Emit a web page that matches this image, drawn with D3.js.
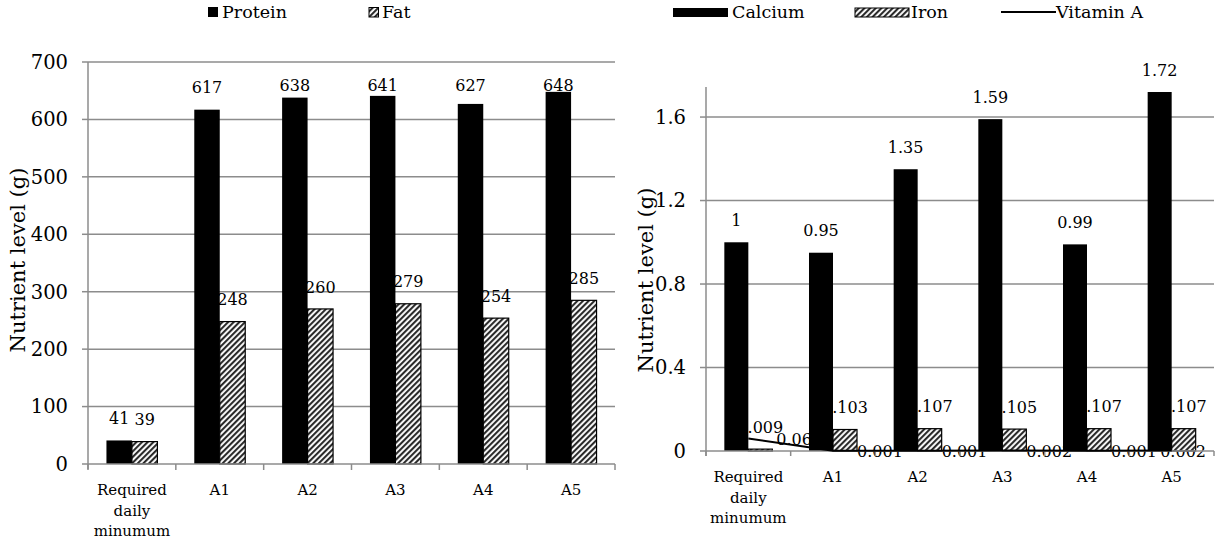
<!DOCTYPE html>
<html>
<head>
<meta charset="utf-8">
<script src="https://cdnjs.cloudflare.com/ajax/libs/d3/7.8.5/d3.min.js"></script>
<style>
  body { margin: 0; background: #fff; }
  svg { display: block; font-family: "DejaVu Serif", "Liberation Serif", serif; }
</style>
</head>
<body>
<svg id="chart" width="1220" height="546"></svg>
<script>
// ---------- datos ----------
const categories = ["Required daily minumum", "A1", "A2", "A3", "A4", "A5"];

const protein = [41, 617, 638, 641, 627, 648];
const fat = [39, 248, 270, 279, 254, 285];
const fatLabels = ["39", "248", "260", "279", "254", "285"];

const calcium = [1, 0.95, 1.35, 1.59, 0.99, 1.72];
const iron = [0.009, 0.103, 0.107, 0.105, 0.107, 0.107];
const vitaminA = [0.06, 0.001, 0.001, 0.002, 0.001, 0.002];

const leftTicks = [0, 100, 200, 300, 400, 500, 600, 700];
const rightTicks = [0, 0.4, 0.8, 1.2, 1.6];

// ---------- estilo ----------
const GRID = "#8c8c8c";
const INK = "#000";
const FS_TICK = 19.5, FS_LAB = 16, FS_CAT = 15, FS_LEG = 17.5, FS_TITLE = 21;

const svg = d3.select("#chart");

const defs = svg.append("defs");
const pat = defs.append("pattern")
  .attr("id", "hatch")
  .attr("patternUnits", "userSpaceOnUse")
  .attr("width", 4).attr("height", 4)
  .attr("patternTransform", "rotate(45)");
pat.append("rect").attr("width", 4).attr("height", 4).attr("fill", "#fff");
pat.append("line")
  .attr("x1", 1).attr("y1", 0).attr("x2", 1).attr("y2", 4)
  .attr("stroke", "#2a2a2a").attr("stroke-width", 2.2);

// ---------- helpers ----------
function catAxis(g, x, y0, tickLen) {
  const step = x.step();
  const r = x.range();
  g.append("line")
    .attr("x1", r[0]).attr("x2", r[1])
    .attr("y1", y0).attr("y2", y0)
    .attr("stroke", GRID).attr("stroke-width", 1.5);
  d3.range(categories.length + 1).forEach(i => {
    const xx = r[0] + i * step;
    g.append("line")
      .attr("x1", xx).attr("x2", xx)
      .attr("y1", y0).attr("y2", y0 + tickLen)
      .attr("stroke", GRID).attr("stroke-width", 1.5);
  });
}

function catLabels(g, x, yTop) {
  categories.forEach(c => {
    const words = c.split(" ");
    const t = g.append("text")
      .attr("text-anchor", "middle")
      .attr("font-size", FS_CAT)
      .attr("fill", INK);
    words.forEach((w, i) => {
      t.append("tspan")
        .attr("x", x(c) + x.bandwidth() / 2)
        .attr("y", yTop + i * 20.5)
        .text(w);
    });
  });
}

function valAxis(g, y, ticks, x0, x1, fmt) {
  ticks.forEach(t => {
    if (t > 0)
      g.append("line")
        .attr("x1", x0).attr("x2", x1)
        .attr("y1", y(t)).attr("y2", y(t))
        .attr("stroke", GRID).attr("stroke-width", 1.5);
    g.append("line")
      .attr("x1", x0 - 6).attr("x2", x0)
      .attr("y1", y(t)).attr("y2", y(t))
      .attr("stroke", GRID).attr("stroke-width", 1.5);
    g.append("text")
      .attr("x", x0 - 20).attr("y", y(t))
      .attr("dy", "0.35em")
      .attr("text-anchor", "end")
      .attr("font-size", FS_TICK)
      .text(fmt(t));
  });
  g.append("line")
    .attr("x1", x0).attr("x2", x0)
    .attr("y1", y.range()[1]).attr("y2", y.range()[0] + 5)
    .attr("stroke", GRID).attr("stroke-width", 1.5);
}

function yTitle(g, cx, cy) {
  g.append("text")
    .attr("transform", `translate(${cx},${cy}) rotate(-90)`)
    .attr("text-anchor", "middle")
    .attr("dy", "0.35em")
    .attr("font-size", FS_TITLE)
    .text("Nutrient level (g)");
}

// =================================================
// Izquierda: proteína / grasa
// =================================================
const L = svg.append("g");
const xL = d3.scaleBand().domain(categories).range([88, 615])
  .paddingInner(0.42).paddingOuter(0.21);
const subL = d3.scaleBand().domain(["p", "f"]).range([0, xL.bandwidth()]);
const yL = d3.scaleLinear().domain([0, 700]).range([464, 62]);

valAxis(L, yL, leftTicks, 88, 615, d => d);
yTitle(L, 18, 260);

// etiquetas de grasa primero (las barras negras las tapan un poco)
L.append("g").selectAll("text").data(categories).join("text")
  .attr("x", (c) => xL(c) + subL("f") + subL.bandwidth() / 2)
  .attr("y", (c, i) => yL(fat[i]) - 22)
  .attr("dy", "0.35em")
  .attr("text-anchor", "middle")
  .attr("font-size", FS_LAB)
  .text((c, i) => fatLabels[i]);

L.append("g").selectAll("rect").data(categories).join("rect")
  .attr("x", c => xL(c) + subL("f"))
  .attr("y", (c, i) => yL(fat[i]))
  .attr("width", subL.bandwidth())
  .attr("height", (c, i) => yL(0) - yL(fat[i]))
  .attr("fill", "url(#hatch)")
  .attr("stroke", INK).attr("stroke-width", 1.2);

L.append("g").selectAll("rect").data(categories).join("rect")
  .attr("x", c => xL(c))
  .attr("y", (c, i) => yL(protein[i]))
  .attr("width", subL.bandwidth())
  .attr("height", (c, i) => yL(0) - yL(protein[i]))
  .attr("fill", INK);

L.append("g").selectAll("text").data(categories).join("text")
  .attr("x", c => xL(c) + subL.bandwidth() / 2)
  .attr("y", (c, i) => Math.max(yL(protein[i]) - 22, yL(700) + 23))
  .attr("dy", "0.35em")
  .attr("text-anchor", "middle")
  .attr("font-size", FS_LAB)
  .text((c, i) => protein[i]);

catAxis(L, xL, 464, 6);
catLabels(L, xL, 495);

// leyenda
L.append("rect").attr("x", 208).attr("y", 7).attr("width", 10).attr("height", 10).attr("fill", INK);
L.append("text").attr("x", 222).attr("y", 12).attr("dy", "0.35em").attr("font-size", FS_LEG).text("Protein");
L.append("rect").attr("x", 369).attr("y", 7.5).attr("width", 9.5).attr("height", 9.5)
  .attr("fill", "url(#hatch)").attr("stroke", INK).attr("stroke-width", 1);
L.append("text").attr("x", 382).attr("y", 12).attr("dy", "0.35em").attr("font-size", FS_LEG).text("Fat");

// =================================================
// Derecha: calcio / hierro / vitamina A
// =================================================
const R = svg.append("g");
const xR = d3.scaleBand().domain(categories).range([706, 1214])
  .paddingInner(0.433).paddingOuter(0.2165);
const subR = d3.scaleBand().domain(["c", "i"]).range([0, xR.bandwidth()]);
const yR = d3.scaleLinear().domain([0, 1.744]).range([451, 87]);

valAxis(R, yR, rightTicks, 706, 1214, d => d);
yTitle(R, 646, 280);

// etiquetas de hierro (debajo de las barras de calcio)
R.append("g").selectAll("text").data(categories).join("text")
  .attr("x", c => xR(c) + subR("i") + subR.bandwidth() / 2)
  .attr("y", (c, i) => yR(iron[i]) - 22)
  .attr("dy", "0.35em")
  .attr("text-anchor", "middle")
  .attr("font-size", FS_LAB)
  .text((c, i) => iron[i]);

// etiquetas de vitamina A, a la derecha del punto y dentro del área
const chartRight = 1206;
const vaLab = R.append("g").selectAll("text").data(categories).join("text")
  .attr("y", (c, i) => yR(vitaminA[i]) + 1)
  .attr("dy", "0.35em")
  .attr("font-size", FS_LAB)
  .text((c, i) => vitaminA[i]);
vaLab.each(function (c, i) {
  const w = this.getComputedTextLength();
  const x0 = xR(c) + xR.bandwidth() / 2 + (i === 0 ? 28 : 24);
  d3.select(this).attr("x", Math.min(x0, chartRight - w));
});

R.append("g").selectAll("rect").data(categories).join("rect")
  .attr("x", c => xR(c) + subR("i"))
  .attr("y", (c, i) => yR(iron[i]))
  .attr("width", subR.bandwidth())
  .attr("height", (c, i) => yR(0) - yR(iron[i]))
  .attr("fill", "url(#hatch)")
  .attr("stroke", INK).attr("stroke-width", 1.2);

R.append("g").selectAll("rect").data(categories).join("rect")
  .attr("x", c => xR(c))
  .attr("y", (c, i) => yR(calcium[i]))
  .attr("width", subR.bandwidth())
  .attr("height", (c, i) => yR(0) - yR(calcium[i]))
  .attr("fill", INK);

R.append("g").selectAll("text").data(categories).join("text")
  .attr("x", c => xR(c) + subR.bandwidth() / 2)
  .attr("y", (c, i) => yR(calcium[i]) - 22)
  .attr("dy", "0.35em")
  .attr("text-anchor", "middle")
  .attr("font-size", FS_LAB)
  .text((c, i) => calcium[i]);

catAxis(R, xR, 451, 5);

R.append("path")
  .datum(categories)
  .attr("fill", "none")
  .attr("stroke", INK)
  .attr("stroke-width", 2)
  .attr("d", d3.line()
    .x(c => xR(c) + xR.bandwidth() / 2)
    .y((c, i) => yR(vitaminA[i])));

catLabels(R, xR, 482);

// leyenda
R.append("rect").attr("x", 673).attr("y", 8).attr("width", 55).attr("height", 9).attr("fill", INK);
R.append("text").attr("x", 732).attr("y", 12).attr("dy", "0.35em").attr("font-size", FS_LEG).text("Calcium");
R.append("rect").attr("x", 855).attr("y", 8).attr("width", 54).attr("height", 9)
  .attr("fill", "url(#hatch)").attr("stroke", INK).attr("stroke-width", 1);
R.append("text").attr("x", 911).attr("y", 12).attr("dy", "0.35em").attr("font-size", FS_LEG).text("Iron");
R.append("line").attr("x1", 1001).attr("x2", 1056).attr("y1", 12).attr("y2", 12)
  .attr("stroke", INK).attr("stroke-width", 2);
R.append("text").attr("x", 1056).attr("y", 12).attr("dy", "0.35em").attr("font-size", FS_LEG).text("Vitamin A");
</script>
</body>
</html>
